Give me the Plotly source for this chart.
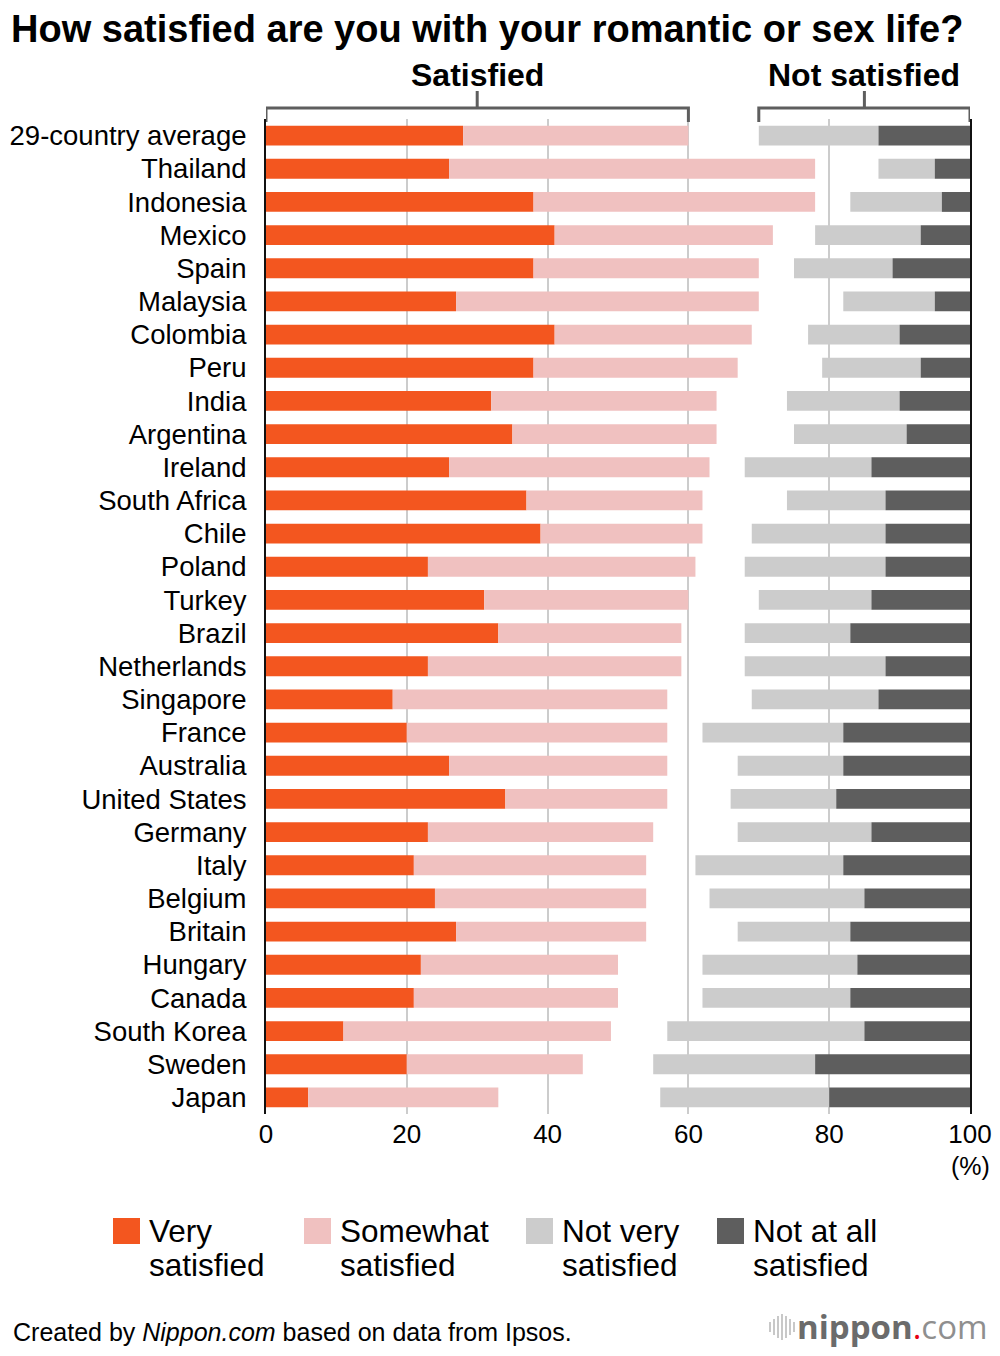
import plotly.graph_objects as go

# Ipsos survey, share of respondents (%)
countries = ["29-country average", "Thailand", "Indonesia", "Mexico", "Spain", "Malaysia",
             "Colombia", "Peru", "India", "Argentina", "Ireland", "South Africa", "Chile",
             "Poland", "Turkey", "Brazil", "Netherlands", "Singapore", "France", "Australia",
             "United States", "Germany", "Italy", "Belgium", "Britain", "Hungary", "Canada",
             "South Korea", "Sweden", "Japan"]
very = [28, 26, 38, 41, 38, 27, 41, 38, 32, 35, 26, 37, 39, 23, 31, 33, 23, 18, 20, 26,
        34, 23, 21, 24, 27, 22, 21, 11, 20, 6]
somewhat = [32, 52, 40, 31, 32, 43, 28, 29, 32, 29, 37, 25, 23, 38, 29, 26, 36, 39, 37, 31,
            23, 32, 33, 30, 27, 28, 29, 38, 25, 27]
not_very = [17, 8, 13, 15, 14, 13, 13, 14, 16, 16, 18, 14, 19, 20, 16, 15, 20, 18, 20, 15,
            15, 19, 21, 22, 16, 22, 21, 28, 23, 24]
not_at_all = [13, 5, 4, 7, 11, 5, 10, 7, 10, 9, 14, 12, 12, 12, 14, 17, 12, 13, 18, 18,
              19, 14, 18, 15, 17, 16, 17, 15, 22, 20]

series_names = ["Very satisfied", "Somewhat satisfied", "Not very satisfied", "Not at all satisfied"]
colors = ["#F3561F", "#F0C1C0", "#CCCCCC", "#5E5E5E"]
xticks = [0, 20, 40, 60, 80, 100]

FONT = "Liberation Sans, Arial, sans-serif"
# page body has an 8px margin, so the figure sits 8px in from the top-left;
# only about x 8..992 of the page ends up visible, keep everything inside
OFF = 8
W, H = 1000 - OFF, 1356 - 2 * OFF
PLOT_L, PLOT_R, PLOT_T, PLOT_B = 266, 970, 119, 1114
L, R, T, B = PLOT_L - OFF, W - (PLOT_R - OFF), PLOT_T - OFF, H - (PLOT_B - OFF)


# page pixel -> paper helpers for decorations
def px_x(px):
    return (px - OFF - L) / (W - L - R)


def px_y(py):
    return (H - B - (py - OFF)) / (H - T - B)


# bases: satisfied grows from 0, not satisfied is pinned to 100
bases = [
    [0] * len(countries),
    very,
    [100 - a - b for a, b in zip(not_very, not_at_all)],
    [100 - b for b in not_at_all],
]
values = [very, somewhat, not_very, not_at_all]

fig = go.Figure()
for name, col, base, vals in zip(series_names, colors, bases, values):
    fig.add_trace(go.Bar(
        y=countries, x=vals, base=base, orientation="h", name=name,
        marker=dict(color=col, line=dict(width=0)), showlegend=False,
        hoverinfo="x+y",
    ))

fig.update_layout(
    width=W, height=H,
    barmode="overlay", bargap=0.4,
    plot_bgcolor="white", paper_bgcolor="white",
    margin=dict(l=L, r=R, t=T, b=B, autoexpand=False),
    font=dict(family=FONT, color="black"),
    title=dict(text="<b>How satisfied are you with your romantic or sex life?</b>",
               x=3 / W, xref="container", xanchor="left",
               y=1 - (29 - OFF) / H, yref="container", yanchor="middle",
               font=dict(size=38, family=FONT, color="black")),
)

fig.update_xaxes(range=[0, 100], tickvals=xticks, showgrid=True, gridcolor="#CCCCCC",
                 gridwidth=2, zeroline=False, showline=False, ticks="", automargin=False,
                 tickfont=dict(size=26), ticklabelstandoff=2, ticklabeloverflow="allow")
fig.update_yaxes(type="category", autorange="reversed", tickmode="array",
                 tickvals=countries, ticktext=countries, showgrid=False, showline=True,
                 mirror=True, linecolor="#111111", linewidth=2, ticks="", automargin=False,
                 tickfont=dict(size=27.5), ticklabelstandoff=12, ticklabeloverflow="allow")

# brackets over the average row
sat_end = very[0] + somewhat[0]
unsat_start = 100 - not_very[0] - not_at_all[0]
bracket_color = "#5E5E5E"
y_bar, y_end, y_top = px_y(108), px_y(122), px_y(91)
for x0, x1 in [(0, sat_end), (unsat_start, 100)]:
    xm = (x0 + x1) / 2
    fig.add_shape(type="path", xref="x", yref="paper",
                  path=f"M {x0} {y_end} L {x0} {y_bar} L {x1} {y_bar} L {x1} {y_end}",
                  line=dict(color=bracket_color, width=3))
    fig.add_shape(type="line", xref="x", yref="paper", x0=xm, x1=xm, y0=y_bar, y1=y_top,
                  line=dict(color=bracket_color, width=3))
fig.add_annotation(text="<b>Satisfied</b>", x=sat_end / 2, xref="x", y=px_y(75), yref="paper",
                   xanchor="center", yanchor="middle", showarrow=False,
                   font=dict(size=32, family=FONT))
fig.add_annotation(text="<b>Not satisfied</b>", x=(unsat_start + 100) / 2, xref="x",
                   y=px_y(75), yref="paper", xanchor="center", yanchor="middle",
                   showarrow=False, font=dict(size=32, family=FONT))

# percent unit under the axis
fig.add_annotation(text="(%)", x=100, xref="x", y=px_y(1166), yref="paper", xanchor="center",
                   yanchor="middle", showarrow=False, font=dict(size=25, family=FONT))

# hand-made legend (bigger swatches than plotly's), two text lines each
leg_x = [113, 304, 526, 717]
for lx, name, col in zip(leg_x, series_names, colors):
    first, second = name.rsplit(" ", 1)
    fig.add_shape(type="rect", xref="paper", yref="paper",
                  x0=px_x(lx), x1=px_x(lx + 27), y0=px_y(1218), y1=px_y(1244),
                  fillcolor=col, line=dict(width=0))
    for line_text, ly in [(first, 1231), (second, 1265)]:
        fig.add_annotation(text=line_text, x=px_x(lx + 34), xref="paper", y=px_y(ly),
                           yref="paper", xanchor="left", yanchor="middle", align="left",
                           showarrow=False, font=dict(size=31.5, family=FONT))

# source and logo
fig.add_annotation(text="Created by <i>Nippon.com</i> based on data from Ipsos.",
                   x=px_x(OFF + 3), xref="paper", y=px_y(1332), yref="paper", xanchor="left",
                   yanchor="middle", showarrow=False, font=dict(size=25, family=FONT))
fig.add_annotation(
    text="<b><span style='color:#6B6B6B'>nippon</span></b>"
         "<span style='color:#E60012'>.</span>"
         "<span style='color:#8F8F8F'>com</span>",
    x=px_x(990), xref="paper", y=px_y(1326), yref="paper", xanchor="right",
    yanchor="middle", showarrow=False, font=dict(size=33, family="Open Sans"))
wave = [(770, 10), (774, 16), (778, 22), (782, 26), (786, 22), (790, 16), (794, 10)]
for wx, wh in wave:
    fig.add_shape(type="line", xref="paper", yref="paper", x0=px_x(wx), x1=px_x(wx),
                  y0=px_y(1327 - wh / 2), y1=px_y(1327 + wh / 2),
                  line=dict(color="#C8C8C8", width=2))

fig.write_html("out.html")
